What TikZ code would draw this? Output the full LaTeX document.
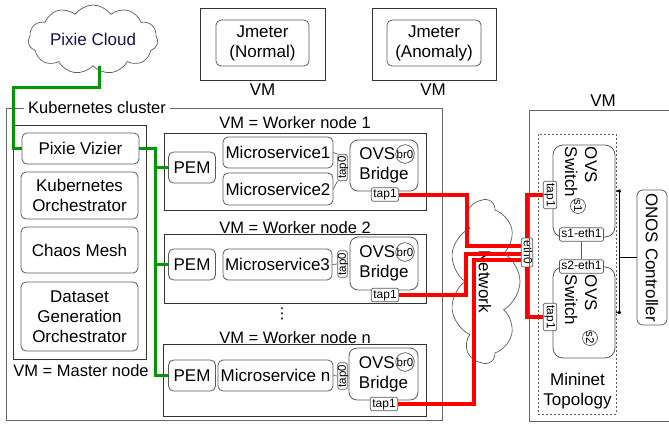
\documentclass[tikz,border=0pt]{standalone}
\usepackage{fontspec}
\setmainfont{Liberation Sans}
\newfontfamily\symfont{DejaVu Sans}
\usetikzlibrary{arrows.meta, positioning, shapes.symbols}
\definecolor{vizgreen}{RGB}{0,153,0}
\definecolor{netred}{RGB}{255,0,0}
\definecolor{darknavy}{RGB}{20,20,80}
\definecolor{edgegray}{RGB}{90,90,90}

\begin{document}
\begin{tikzpicture}[x=1pt, y=-1pt,
  every node/.style={font=\fontsize{17}{20}\selectfont},
  vm/.style={rectangle, draw=black!80, line width=0.8pt},
  svc/.style={rectangle, rounded corners=5pt, draw=edgegray, line width=0.8pt, align=center, inner sep=0pt},
  port/.style={rectangle, rounded corners=2pt, draw=edgegray, fill=white, line width=0.7pt, inner xsep=2pt, inner ysep=1pt,
    text height=9pt, text depth=2.5pt, font=\fontsize{12}{14}\selectfont},
  vmtitle/.style={font=\fontsize{16.5}{19}\selectfont, inner sep=1pt},
  brc/.style={circle, draw=edgegray, line width=0.7pt, fill=white, inner sep=0pt, minimum size=15pt, font=\fontsize{11.5}{13}\selectfont},
  netcloud/.style={cloud, cloud puffs=11, cloud puff arc=110, cloud ignores aspect, draw=edgegray, line width=0.7pt},
  glink/.style={draw=vizgreen, line width=3pt},
  rlink/.style={draw=netred, line width=4pt},
  ctrl/.style={-{Latex[length=5pt,width=4pt]}, draw=black, line width=0.7pt}
]
\useasboundingbox (0,0) rectangle (669,426);

% cloud and load generators
\node[netcloud, minimum width=126pt, minimum height=69pt, text=darknavy] (PC) at (93,39.5) {Pixie Cloud};
\node[vm, minimum width=125pt, minimum height=72pt] (V1) at (262.5,44) {};
\node[svc, minimum width=93pt, minimum height=46pt] (JN) at (262.5,43) {Jmeter\\(Normal)};
\node (L1) at (262.5,90) {VM};
\node[vm, minimum width=124pt, minimum height=72pt] (V2) at (434,44) {};
\node[svc, minimum width=94pt, minimum height=46pt] (JA) at (434,43) {Jmeter\\(Anomaly)};
\node (L2) at (433,90) {VM};

% kubernetes cluster
\node[rectangle, draw=black!60, line width=1pt, minimum width=436pt, minimum height=312pt] (KC) at (224,264) {};
\node[vmtitle, fill=white, inner xsep=4pt] (KL) at (97,108) {Kubernetes cluster};

\node[vm, minimum width=133pt, minimum height=234pt] (MB) at (79.5,242) {};
\node[vmtitle] (ML) at (81,371) {VM = Master node};
\node[svc, minimum width=117pt, minimum height=31pt] (PV) at (80.5,148.5) {Pixie Vizier};
\node[svc, minimum width=117pt, minimum height=47pt] (KO) at (79.5,195.5) {Kubernetes\\Orchestrator};
\node[svc, minimum width=117pt, minimum height=46pt] (CM) at (79.5,250) {Chaos Mesh};
\node[svc, minimum width=117pt, minimum height=69pt] (DG) at (79.5,316.5) {Dataset\\Generation\\Orchestrator};

% worker node 1
\node[vm, minimum width=262pt, minimum height=77pt] (W1) at (295,171.5) {};
\node[vmtitle] (T1) at (295,123) {VM = Worker node 1};
\node[svc, minimum width=47pt, minimum height=31pt] (P1) at (192,167.5) {PEM};
\node[svc, minimum width=110pt, minimum height=31pt] (M1) at (278,152.5) {Microservice1};
\node[svc, minimum width=110pt, minimum height=32pt] (M2) at (278,189) {Microservice2};
\node[svc, rounded corners=8pt, minimum width=68pt, minimum height=51pt, align=left] (B1) at (384,165.5) {OVS\\Bridge};
\node[brc] (C1) at (405,154) {br0};
\node[port, rotate=90, inner ysep=0pt, text height=8pt, text depth=1.5pt, font=\fontsize{11.5}{13}\selectfont] (A1) at (342.5,167.5) {tap0};
\node[port] (E1) at (385,194.5) {tap1};
\draw[edgegray, line width=0.7pt] (M1.east) -- (A1.north east);
\draw[edgegray, line width=0.7pt] (M2.east) -- (A1.north west);

% worker node 2
\node[vm, minimum width=262pt, minimum height=69pt] (W2) at (295,268.5) {};
\node[vmtitle] (T2) at (295,228) {VM = Worker node 2};
\node[svc, minimum width=47pt, minimum height=31pt] (P2) at (192,264.5) {PEM};
\node[svc, minimum width=109pt, minimum height=31pt] (M3) at (277.5,264.5) {Microservice3};
\node[svc, rounded corners=8pt, minimum width=68pt, minimum height=53pt, align=left] (B2) at (384,263.5) {OVS\\Bridge};
\node[brc] (C2) at (405,252) {br0};
\node[port, rotate=90, inner ysep=0pt, text height=8pt, text depth=1.5pt, font=\fontsize{11.5}{13}\selectfont] (A2) at (342.5,264) {tap0};
\node[port] (E2) at (385,295) {tap1};
\draw[edgegray, line width=0.7pt] (M3.east) -- (A2.north);

\node[font=\symfont\fontsize{15}{17}\selectfont] (DT) at (282,314) {⋮};

% worker node n
\node[vm, minimum width=263pt, minimum height=72pt] (WN) at (294.5,380) {};
\node[vmtitle] (TN) at (295,338) {VM = Worker node n};
\node[svc, minimum width=47pt, minimum height=31pt] (PN) at (192,375.5) {PEM};
\node[svc, minimum width=115pt, minimum height=31pt] (MN) at (275.5,375.5) {Microservice n};
\node[svc, rounded corners=8pt, minimum width=69pt, minimum height=52pt, align=left] (BN) at (383.5,374) {OVS\\Bridge};
\node[brc] (CN) at (405,362) {br0};
\node[port, rotate=90, inner ysep=0pt, text height=8pt, text depth=1.5pt, font=\fontsize{11.5}{13}\selectfont] (AN) at (342.5,376) {tap0};
\node[port] (EN) at (384,404) {tap1};
\draw[edgegray, line width=0.7pt] (MN.east) -- (AN.north);

% green monitoring links
\coordinate (bus) at (155,0);
\draw[glink] ([xshift=6pt]PC.south) |- (13,87) |- (PV.west);
\draw[glink] (PV.east) -| (bus |- PN.west) -- (PN.west);
\draw[glink] (bus |- P1.west) -- (P1.west);
\draw[glink] (bus |- P2.west) -- (P2.west);

% network
\node[netcloud, cloud puffs=9, cloud puff arc=120, rotate=-90, minimum width=163pt, minimum height=70pt] (NW) at (485,281.5) {Network};
\node[port, rotate=-90, minimum width=29pt, inner ysep=0pt] (E0) at (527,252.5) {eth0};
\draw[rlink] (E1.east) -- ++(68,0) |- ([yshift=6.5pt]E0.south);
\draw[rlink] (E2.east) -- ++(67,0) |- ([yshift=-1.5pt]E0.south);
\draw[rlink] (EN.east) -- ++(76,0) |- ([yshift=-7.5pt]E0.south);

% mininet VM
\draw[black!60, line width=1pt] (680,110) -- (529,110) -- (529,421) -- (680,421);
\node (L3) at (603,101) {VM};
\node[draw=edgegray, dash pattern=on 2pt off 2pt, line width=0.7pt, minimum width=78pt, minimum height=280pt] (MT) at (577,274) {};
\node[align=center] (MI) at (577.5,391) {Mininet\\Topology};

\node[svc, rounded corners=10pt, minimum width=62pt, minimum height=92pt] (S1) at (584,191) {};
\node[rotate=-90, align=left, inner sep=0pt] (S1L) at (581,172) {OVS\\Switch};
\node[brc, rotate=-90] (Q1) at (578,206) {s1};
\node[svc, rounded corners=10pt, minimum width=62pt, minimum height=91pt] (S2) at (584,312.5) {};
\node[rotate=-90, align=left, inner sep=0pt] (S2L) at (581,300) {OVS\\Switch};
\node[brc, rotate=-90] (Q2) at (590,338) {s2};
\node[port] (X1) at (581.5,234.5) {s1-eth1};
\node[port] (X2) at (581.5,266.5) {s2-eth1};
\draw[edgegray, line width=0.7pt] (X1) -- (X2);
\node[port, rotate=-90] (R1) at (550,195) {tap1};
\node[port, rotate=-90] (R2) at (550,317) {tap1};
\draw[rlink] (E0.west) |- (R1.south);
\draw[rlink] (E0.east) |- (R2.south);

\node[svc, rounded corners=6pt, rotate=-90, minimum width=135pt, minimum height=30pt] (ON) at (652,257.5) {ONOS Controller};
\draw[ctrl] (ON.south) -- ++(-17,0) |- (S1.east);
\draw[ctrl] (ON.south) -- ++(-17,0) |- (S2.east);

\end{tikzpicture}
\end{document}
